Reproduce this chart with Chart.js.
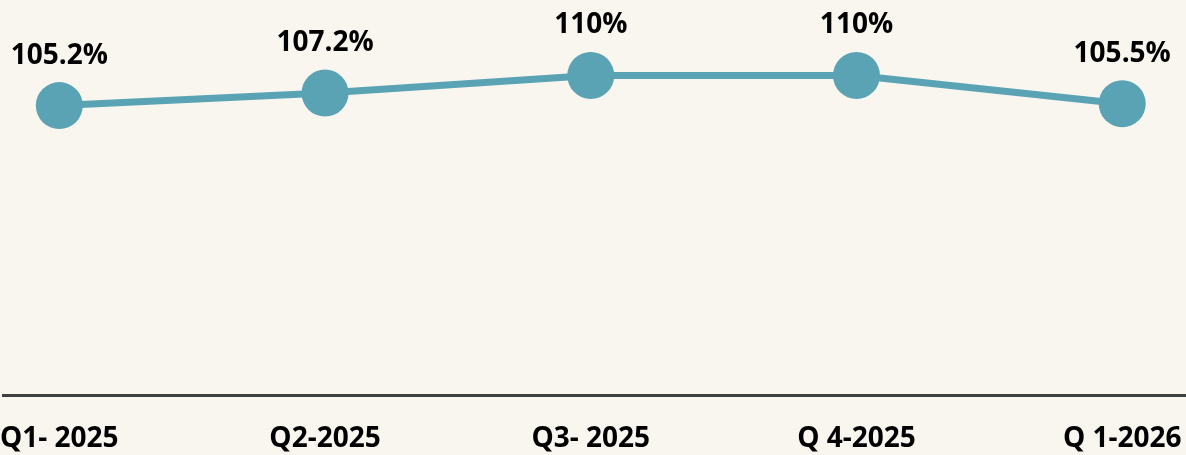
<!DOCTYPE html>
<html>
<head>
<meta charset="utf-8">
<script src="https://cdn.jsdelivr.net/npm/chart.js@4"></script>
<style>
  html, body { margin: 0; padding: 0; background: #f9f6ef; }
  #wrap { width: 1186px; height: 455px; }
</style>
</head>
<body>
<div id="wrap"><canvas id="myChart"></canvas></div>
<script>
const quarters = ['Q1- 2025', 'Q2-2025', 'Q3- 2025', 'Q 4-2025', 'Q 1-2026'];
const values = [105.2, 107.2, 110, 110, 105.5];
const valueLabels = ['105.2%', '107.2%', '110%', '110%', '105.5%'];

const lineColor = '#5aa3b4';

// labels above each point
const pointLabels = {
    id: 'pointLabels',
    afterDatasetsDraw(chart) {
        const ctx = chart.ctx;
        const meta = chart.getDatasetMeta(0);
        ctx.save();
        ctx.font = 'bold 28px "Open Sans"';
        ctx.fillStyle = '#000';
        ctx.textAlign = 'center';
        ctx.textBaseline = 'alphabetic';
        meta.data.forEach((pt, i) => {
            ctx.fillText(valueLabels[i], pt.x, pt.y - 42);
        });
        ctx.restore();
    }
};

const data = {
    datasets: [
        {
            data: values.map((v, i) => ({ x: i, y: v })),
            borderColor: lineColor,
            backgroundColor: lineColor,
            borderWidth: 7,
            pointRadius: 23.5,
            pointHoverRadius: 23.5,
            pointBorderWidth: 0,
            tension: 0
        }
    ]
};

const config = {
    type: 'line',
    data: data,
    options: {
        responsive: true,
        maintainAspectRatio: false,
        animation: false,
        layout: { padding: 0, autoPadding: false },
        plugins: {
            legend: { display: false },
            tooltip: { enabled: false }
        },
        scales: {
            x: {
                type: 'linear',
                min: -0.21,
                max: 4.24,
                afterBuildTicks: (scale) => {
                    scale.ticks = quarters.map((_, i) => ({ value: i }));
                },
                grid: { display: false, drawTicks: true, tickLength: 27 },
                border: { display: true, color: '#404040', width: 3 },
                ticks: {
                    padding: 0,
                    color: '#000',
                    font: { family: 'Open Sans', size: 28, weight: 'bold', lineHeight: 1.143 },
                    maxRotation: 0,
                    autoSkip: false,
                    callback: (v) => quarters[v]
                }
            },
            y: {
                display: false,
                min: 59,
                max: 122
            }
        }
    },
    plugins: [pointLabels]
};

const ctx = document.getElementById('myChart').getContext('2d');
const chart = new Chart(ctx, config);
</script>
</body>
</html>
